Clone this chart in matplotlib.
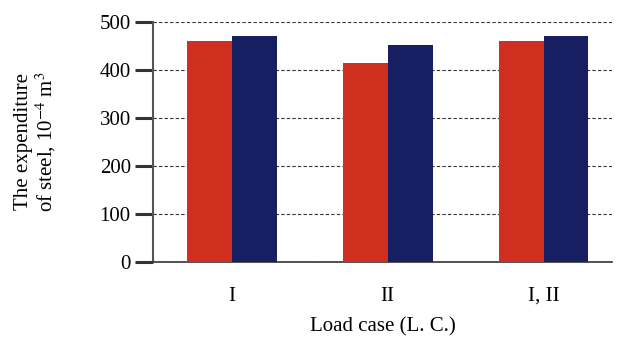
import numpy as np
import matplotlib.pyplot as plt

# Values (10^-4 m^3)
cases = ["I", "II", "I, II"]
series_red = [460, 415, 460]
series_blue = [471, 452, 471]

plt.rcParams['font.family'] = ['Liberation Serif', 'DejaVu Serif']
plt.rcParams['mathtext.fontset'] = 'stix'

fig = plt.figure(figsize=(6.17, 3.37), dpi=100)
ax = fig.add_axes([0.248, 0.2226, 0.744, 0.7124])

x = np.arange(len(cases))
width = 0.288
ax.bar(x - width / 2, series_red, width, color="#d02f20", zorder=3)
ax.bar(x + width / 2, series_blue, width, color="#181e62", zorder=3)

ax.set_xlim(-0.506, 2.44)
ax.set_ylim(0, 500)
ax.set_yticks(range(0, 501, 100))
ax.set_xticks(x)
ax.set_xticklabels(cases)

# dashed horizontal grid
ax.yaxis.grid(True, linestyle=(0, (3, 2)), color="#333333", linewidth=0.8, zorder=0)

for side in ["top", "right"]:
    ax.spines[side].set_visible(False)
ax.spines["left"].set_color("#555555")
ax.spines["left"].set_linewidth(1.5)
ax.spines["bottom"].set_color("#333333")
ax.spines["bottom"].set_linewidth(1.2)

ax.tick_params(axis="y", length=13, width=2.2, color="#333333", labelsize=15, pad=3)
ax.tick_params(axis="x", length=0, labelsize=15, pad=18)

ax.set_xlabel("Load case (L. C.)", fontsize=15, labelpad=8)
ax.set_ylabel("The expenditure\nof steel, 10$^{-4}$ m$^3$", fontsize=15, labelpad=30,
              linespacing=1.0)

fig.savefig("out.png", dpi=100)
